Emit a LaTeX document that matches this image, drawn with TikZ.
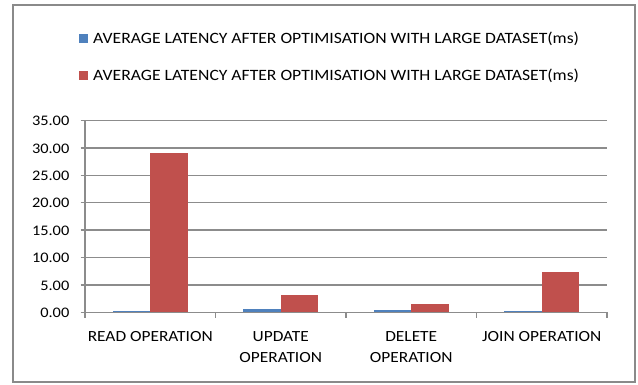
\documentclass[tikz,border=0pt]{standalone}
\usepackage{fontspec}
\setmainfont{Carlito}[FakeStretch=1.12]
\definecolor{barblue}{HTML}{4F81BD}
\definecolor{barred}{HTML}{C0504D}
\definecolor{gridgray}{HTML}{8C8C8C}
\definecolor{framegray}{HTML}{8A8A8A}
\begin{document}
\begin{tikzpicture}[x=1pt,y=-1pt,
  every node/.style={inner sep=0pt},
  legtext/.style={anchor=base west, font=\fontsize{15.75}{20}\selectfont},
  grid/.style={draw=gridgray, line width=1.5pt},
  ylab/.style={anchor=base east, font=\fontsize{14.6}{18}\selectfont},
  xlab/.style={anchor=base, align=center, font=\fontsize{15.5}{20.5}\selectfont}]
\useasboundingbox (0,0) rectangle (638,385);
\draw[draw=framegray, line width=2pt] (13,5) rectangle (635,382);
% legend
\node[fill=barblue, minimum width=9pt, minimum height=9pt] (lb) at (83.5,38.5) {};
\node[legtext] (lbt) at (93,44) {AVERAGE LATENCY AFTER OPTIMISATION WITH LARGE DATASET(ms)};
\node[fill=barred, minimum width=9pt, minimum height=9pt] (lr) at (83.5,75.5) {};
\node[legtext] (lrt) at (93,80.7) {AVERAGE LATENCY AFTER OPTIMISATION WITH LARGE DATASET(ms)};
% gridlines and y labels
\foreach \v [count=\i] in {0.00,5.00,10.00,15.00,20.00,25.00,30.00,35.00}{
  \pgfmathsetmacro{\yy}{312.3-(\i-1)*27.4}
  \coordinate (gl\i) at (80.5,\yy);
  \coordinate (gr\i) at (607,\yy);
  \draw[grid] (gl\i) -- (gr\i);
  \node[ylab] (yl\i) at (69.5,\yy+5.2) {\v};
}
% bars: value scale 5.48 px per unit
\foreach \cx/\b/\r [count=\k] in {150.25/0.15/29.1, 280.75/0.6/3.15, 411.25/0.4/1.5, 541.75/0.2/7.3}{
  \fill[barblue] (\cx-37.5,312.3) rectangle (\cx,312.3-\b*5.48);
  \fill[barred] (\cx,312.3) rectangle (\cx+37.5,312.3-\r*5.48);
}
% axes
\coordinate (ytop) at (85,120.5);
\coordinate (ybot) at (85,318);
\draw[grid] (ytop) -- (ybot);
\foreach \x [count=\j] in {215.5,346,476.5,607}{
  \coordinate (t\j) at (\x,312.3);
  \draw[grid] (t\j) -- ++(0,5.7);
}
% category labels (base anchor = baseline of last line)
\node[xlab] (c1) at (150.25,341.7) {READ OPERATION};
\node[xlab] (c2) at (280.75,362.2) {UPDATE\\OPERATION};
\node[xlab] (c3) at (411.25,362.2) {DELETE\\OPERATION};
\node[xlab] (c4) at (541.75,341.7) {JOIN OPERATION};
\end{tikzpicture}
\end{document}
